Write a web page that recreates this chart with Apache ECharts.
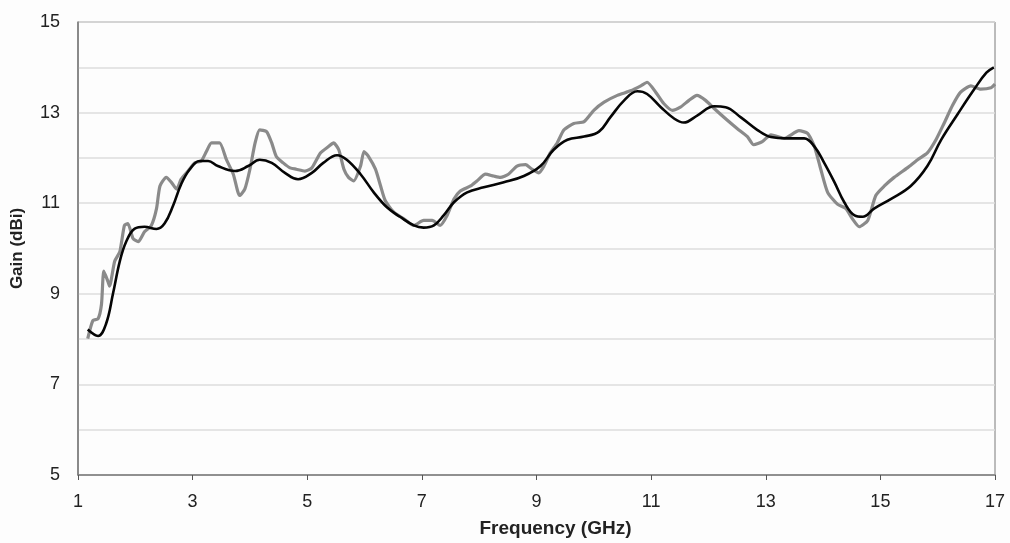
<!DOCTYPE html>
<html>
<head>
<meta charset="utf-8">
<script src="https://cdn.jsdelivr.net/npm/echarts@6/dist/echarts.min.js"></script>
<style>
html,body{margin:0;padding:0;background:#fdfdfd;}
#chart{width:1010px;height:543px;}
</style>
</head>
<body>
<div id="chart"></div>
<script>
// Measured gain (gray, noisy)
const measFreq = [1.17,1.26,1.35,1.41,1.45,1.52,1.55,1.64,1.73,1.81,1.87,1.96,2.05,2.16,2.28,2.37,2.43,2.54,2.63,2.72,2.80,2.92,3.04,3.15,3.24,3.33,3.47,3.59,3.71,3.82,3.91,4.00,4.09,4.17,4.29,4.38,4.46,4.58,4.70,4.81,4.96,5.08,5.23,5.37,5.46,5.55,5.64,5.72,5.81,5.93,5.99,6.07,6.19,6.28,6.36,6.51,6.68,6.86,7.03,7.18,7.32,7.44,7.56,7.67,7.85,7.96,8.11,8.25,8.37,8.51,8.66,8.81,8.92,9.04,9.13,9.24,9.36,9.48,9.65,9.83,10.00,10.18,10.41,10.64,10.82,10.93,11.08,11.22,11.37,11.51,11.66,11.80,11.95,12.10,12.33,12.50,12.68,12.79,12.94,13.09,13.32,13.58,13.73,13.85,13.96,14.08,14.25,14.40,14.51,14.63,14.78,14.92,15.07,15.24,15.47,15.65,15.82,15.97,16.11,16.26,16.40,16.58,16.75,16.93,17.00];
const measGain = [8.01,8.41,8.45,8.77,9.50,9.28,9.17,9.72,9.93,10.51,10.55,10.22,10.15,10.37,10.51,10.88,11.38,11.57,11.46,11.31,11.53,11.71,11.89,11.93,12.14,12.33,12.33,11.96,11.64,11.17,11.31,11.75,12.33,12.62,12.58,12.33,12.03,11.89,11.78,11.75,11.71,11.78,12.11,12.25,12.33,12.18,11.75,11.57,11.49,11.82,12.14,12.03,11.75,11.38,11.06,10.80,10.66,10.51,10.62,10.62,10.51,10.73,11.09,11.27,11.38,11.49,11.64,11.60,11.57,11.64,11.82,11.85,11.75,11.67,11.82,12.11,12.33,12.62,12.76,12.80,13.05,13.23,13.38,13.48,13.59,13.67,13.45,13.20,13.05,13.12,13.27,13.38,13.27,13.09,12.83,12.65,12.47,12.29,12.36,12.51,12.43,12.60,12.54,12.25,11.75,11.24,10.98,10.88,10.66,10.48,10.62,11.17,11.38,11.57,11.78,11.96,12.11,12.40,12.76,13.16,13.45,13.59,13.52,13.55,13.63];

// Simulated gain (black, smooth)
const simFreq = [1.17,1.35,1.49,1.61,1.73,1.84,1.99,2.16,2.37,2.51,2.66,2.80,2.95,3.12,3.27,3.44,3.74,3.97,4.17,4.38,4.61,4.84,5.08,5.28,5.52,5.69,5.93,6.16,6.39,6.62,6.86,7.03,7.21,7.38,7.56,7.79,8.08,8.43,8.78,9.07,9.30,9.54,9.83,10.09,10.29,10.53,10.76,10.93,11.17,11.40,11.57,11.81,12.10,12.30,12.56,12.85,13.09,13.38,13.67,13.85,14.02,14.20,14.37,14.55,14.69,14.89,15.18,15.53,15.82,16.06,16.35,16.64,16.85,16.98];
const simGain = [8.21,8.07,8.34,9.00,9.72,10.15,10.44,10.48,10.43,10.55,10.95,11.42,11.75,11.93,11.93,11.82,11.71,11.82,11.96,11.89,11.67,11.53,11.67,11.89,12.06,11.96,11.64,11.24,10.91,10.70,10.51,10.46,10.51,10.73,11.02,11.24,11.35,11.46,11.60,11.82,12.18,12.40,12.47,12.58,12.90,13.27,13.47,13.41,13.12,12.87,12.78,12.94,13.14,13.12,12.90,12.62,12.46,12.43,12.43,12.25,11.89,11.46,11.02,10.73,10.70,10.88,11.09,11.38,11.82,12.40,12.97,13.52,13.88,14.00];

const xTicks = [1,3,5,7,9,11,13,15,17];
const yTickLabels = [5,7,9,11,13,15];

const zip = (a, b) => a.map((v, i) => [v, b[i]]);
const font = '"Liberation Sans", Arial, sans-serif';

const chart = echarts.init(document.getElementById('chart'), null, {renderer: 'canvas'});
chart.setOption({
  animation: false,
  backgroundColor: '#fdfdfd',
  grid: {left: 78, right: 15, top: 22, bottom: 60, show: true, borderColor: '#7a7a7a', borderWidth: 1, backgroundColor: 'transparent'},
  xAxis: {
    type: 'value', min: 1, max: 17, interval: 2,
    name: 'Frequency (GHz)', nameLocation: 'middle', nameGap: 44,
    nameTextStyle: {fontFamily: font, fontWeight: 'bold', fontSize: 19, color: '#222', padding: [0, 0, 0, 38]},
    axisLine: {lineStyle: {color: '#7a7a7a', width: 1.5}},
    axisTick: {show: true, length: 5, lineStyle: {color: '#555'}, customValues: xTicks},
    axisLabel: {fontFamily: font, fontSize: 18, color: '#222', margin: 18, customValues: xTicks},
    splitLine: {show: false}
  },
  yAxis: {
    type: 'value', min: 5, max: 15, interval: 1,
    name: 'Gain (dBi)', nameLocation: 'middle', nameGap: 52, nameRotate: 90,
    nameTextStyle: {fontFamily: font, fontWeight: 'bold', fontSize: 17, color: '#222'},
    axisLine: {show: true, lineStyle: {color: '#7a7a7a', width: 1.5}},
    axisTick: {show: false},
    axisLabel: {fontFamily: font, fontSize: 18, color: '#222', margin: 18,
      formatter: v => yTickLabels.includes(v) ? String(v) : ''},
    splitLine: {show: true, lineStyle: {color: '#dcdcdc', width: 1.5}}
  },
  series: [
    {
      type: 'line', name: 'Measured', data: zip(measFreq, measGain),
      showSymbol: false, smooth: 0.2,
      lineStyle: {color: '#8a8a8a', width: 3.2}, z: 2
    },
    {
      type: 'line', name: 'Simulated', data: zip(simFreq, simGain),
      showSymbol: false, smooth: 0.4,
      lineStyle: {color: '#050505', width: 2.6}, z: 3
    }
  ]
});
</script>
</body>
</html>
